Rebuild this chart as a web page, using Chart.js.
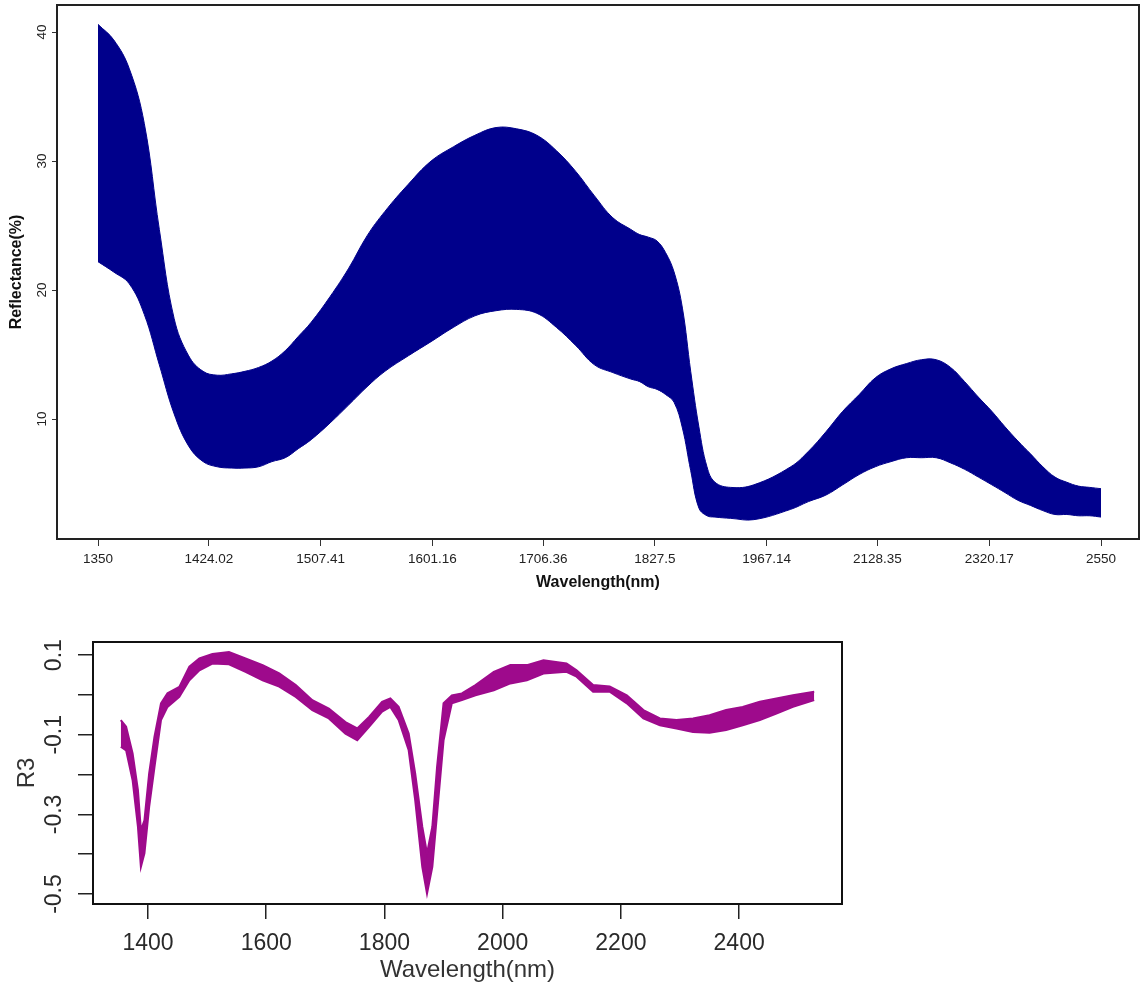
<!DOCTYPE html>
<html>
<head>
<meta charset="utf-8">
<script src="https://cdn.jsdelivr.net/npm/chart.js@4.4.1/dist/chart.umd.min.js"></script>
<style>
  body { margin: 0; background: #fff; width: 1140px; height: 992px; overflow: hidden; }
  .panel { position: absolute; left: 0; }
</style>
</head>
<body>
<div class="panel" style="top:0"><canvas id="spectraChart" width="1140" height="600"></canvas></div>
<div class="panel" style="top:600px"><canvas id="r3Chart" width="1140" height="392"></canvas></div>
<script>
// top panel: envelope of the reflectance spectra (upper / lower edge of the band)
const specWavelengths = [1350, 1360, 1370, 1380, 1390, 1400, 1410, 1420, 1430, 1440, 1450, 1460, 1470, 1480, 1490, 1500,
    1515, 1530, 1545, 1560, 1580, 1600, 1620, 1640, 1660, 1680, 1700, 1720, 1740, 1760, 1780, 1800,
    1810, 1820, 1830, 1840, 1850, 1860, 1870, 1880, 1890, 1900, 1920, 1950,
    2000, 2025, 2050, 2075, 2100, 2125, 2150, 2175, 2200, 2225, 2250, 2275, 2300, 2325, 2350, 2375,
    2400, 2425, 2450, 2475, 2500, 2525, 2550];
const specUpper = [40.6, 39.4, 37.2, 32.9, 24.7, 17.8, 14.9, 13.7, 13.4, 13.5, 13.7, 14.0, 14.5, 15.3, 16.4, 17.5,
    19.5, 21.7, 24.2, 26.1, 28.2, 30.0, 31.1, 32.0, 32.6, 32.5, 32.0, 30.8, 29.2, 27.3, 25.6, 24.7,
    24.3, 24.1, 23.8, 22.9, 21.4, 18.6, 13.7, 9.4, 6.3, 5.1, 4.7, 4.9,
    6.3, 7.5, 9.0, 10.6, 11.9, 13.2, 13.9, 14.3, 14.6, 14.6, 14.0, 12.9, 11.7, 10.6, 9.4, 8.3,
    7.3, 6.3, 5.5, 5.1, 4.8, 4.7, 4.6];
const specLower = [22.2, 21.4, 20.5, 18.1, 14.2, 10.4, 7.9, 6.7, 6.3, 6.2, 6.2, 6.3, 6.7, 7.0, 7.7, 8.4,
    9.7, 11.1, 12.5, 13.7, 14.9, 16.0, 17.1, 18.0, 18.4, 18.5, 18.2, 17.1, 15.7, 14.2, 13.6, 13.1,
    12.9, 12.5, 12.3, 11.9, 11.3, 9.3, 6.0, 3.1, 2.5, 2.4, 2.3, 2.2,
    3.0, 3.6, 4.1, 4.9, 5.7, 6.3, 6.7, 7.0, 7.0, 7.0, 6.6, 6.1, 5.5, 4.9, 4.3, 3.7,
    3.3, 2.9, 2.6, 2.6, 2.5, 2.5, 2.4];
const specTickWavelengths = [1350, 1424.02, 1507.41, 1601.16, 1706.36, 1827.5, 1967.14, 2128.35, 2320.17, 2550];
const specTickLabels = ['1350', '1424.02', '1507.41', '1601.16', '1706.36', '1827.5', '1967.14', '2128.35', '2320.17', '2550'];
const specYTicks = [10, 20, 30, 40];
const specYLabels = ['10', '20', '30', '40'];

// bottom panel: R3 band
const r3Wavelengths = [1354, 1363, 1374, 1383, 1388, 1394, 1402, 1411, 1422, 1433, 1453, 1470, 1487, 1509,
    1537, 1565, 1594, 1622, 1650, 1678, 1706, 1734, 1754, 1774, 1796, 1810, 1824, 1841, 1852, 1864,
    1872, 1881, 1889, 1900, 1914, 1931, 1954, 1985, 2013, 2041, 2069, 2108, 2125, 2153, 2181, 2210,
    2238, 2266, 2294, 2322, 2350, 2378, 2406, 2435, 2463, 2491, 2527];
const r3Upper = [-0.063, -0.080, -0.147, -0.239, -0.340, -0.315, -0.197, -0.105, -0.021, 0.004, 0.020, 0.071, 0.092, 0.103,
    0.108, 0.092, 0.075, 0.054, 0.025, -0.013, -0.034, -0.068, -0.084, -0.055, -0.017, -0.009, -0.030, -0.097, -0.197, -0.331,
    -0.398, -0.331, -0.181, -0.021, -0.001, 0.004, 0.025, 0.058, 0.075, 0.075, 0.087, 0.079, 0.062, 0.025, 0.021, -0.001,
    -0.038, -0.059, -0.063, -0.059, -0.051, -0.038, -0.030, -0.017, -0.009, -0.001, 0.008];
const r3Lower = [-0.130, -0.139, -0.214, -0.331, -0.432, -0.398, -0.281, -0.181, -0.063, -0.030, -0.005, 0.037, 0.062, 0.079,
    0.077, 0.058, 0.037, 0.021, -0.005, -0.038, -0.059, -0.097, -0.114, -0.080, -0.042, -0.030, -0.063, -0.139, -0.264, -0.432,
    -0.499, -0.432, -0.298, -0.114, -0.021, -0.013, -0.001, 0.012, 0.029, 0.037, 0.054, 0.058, 0.046, 0.008, 0.008, -0.021,
    -0.059, -0.076, -0.084, -0.093, -0.095, -0.088, -0.076, -0.063, -0.047, -0.030, -0.013];
const r3XTicks = [1400, 1600, 1800, 2000, 2200, 2400];
const r3YTicks = [0.1, 0, -0.1, -0.2, -0.3, -0.4, -0.5];
const r3YLabelValues = [0.1, -0.1, -0.3, -0.5];
const r3YLabels = ['0.1', '-0.1', '-0.3', '-0.5'];

const FONT = '"Liberation Sans", Arial, sans-serif';
const navy = '#00008B';
const purple = '#9E0A8C';

Chart.defaults.font.family = FONT;

// box round the plot + vertical y tick labels, like base R
function framePlugin(cfg) {
    return {
        id: 'frame',
        afterDraw(chart) {
            const { ctx, chartArea: a } = chart;
            const yScale = chart.scales.y;
            ctx.save();
            ctx.strokeStyle = cfg.boxColor;
            ctx.lineWidth = cfg.boxWidth;
            ctx.strokeRect(a.left, a.top, a.right - a.left, a.bottom - a.top);
            ctx.fillStyle = cfg.textColor;
            ctx.font = cfg.font;
            ctx.textAlign = 'center';
            ctx.textBaseline = 'middle';
            cfg.values.forEach((v, i) => {
                ctx.save();
                ctx.translate(cfg.labelX, yScale.getPixelForValue(v));
                ctx.rotate(-Math.PI / 2);
                ctx.fillText(cfg.labels[i], 0, 0);
                ctx.restore();
            });
            ctx.restore();
        }
    };
}

// the top x axis is even in wavenumber, so plot against 1e7 / wavelength
const toWavenumber = w => 1e7 / w;

new Chart(document.getElementById('spectraChart'), {
    type: 'line',
    data: {
        datasets: [
            {
                data: specUpper.map((v, i) => ({ x: toWavenumber(specWavelengths[i]), y: v })),
                borderColor: navy,
                backgroundColor: navy,
                borderWidth: 1,
                pointRadius: 0,
                fill: '+1',
                tension: 0.4
            },
            {
                data: specLower.map((v, i) => ({ x: toWavenumber(specWavelengths[i]), y: v })),
                borderColor: navy,
                borderWidth: 1,
                pointRadius: 0,
                fill: false,
                tension: 0.4
            }
        ]
    },
    options: {
        responsive: false,
        animation: false,
        devicePixelRatio: 1,
        layout: { padding: { top: 5, right: 1, left: 0, bottom: 0 } },
        plugins: { legend: { display: false }, tooltip: { enabled: false } },
        scales: {
            x: {
                type: 'linear',
                reverse: true,
                min: 3789.6,
                max: 7549.9,
                afterBuildTicks: s => { s.ticks = specTickWavelengths.map(w => ({ value: toWavenumber(w) })); },
                afterFit: s => { s.height = 61; },
                grid: { drawOnChartArea: false, drawTicks: true, tickLength: 7, color: '#333', lineWidth: 1 },
                border: { display: false },
                ticks: {
                    autoSkip: false, maxRotation: 0, minRotation: 0, padding: 5,
                    color: '#222', font: { size: 13.5 },
                    callback: (v, i) => specTickLabels[i]
                },
                title: {
                    display: true, text: 'Wavelength(nm)', color: '#111',
                    font: { size: 16, weight: 'bold' }, padding: { top: 0, bottom: 7.4 }
                }
            },
            y: {
                type: 'linear',
                min: 0.7,
                max: 42.1,
                afterBuildTicks: s => { s.ticks = specYTicks.map(v => ({ value: v })); },
                afterFit: s => { s.width = 57; },
                grid: { drawOnChartArea: false, drawTicks: true, tickLength: 5, color: '#333', lineWidth: 1 },
                border: { display: false },
                ticks: { display: false },
                title: {
                    display: true, text: 'Reflectance(%)', color: '#111',
                    font: { size: 16, weight: 'bold' }, padding: { top: 7.4, bottom: 0 }
                }
            }
        }
    },
    plugins: [framePlugin({
        boxColor: '#222', boxWidth: 2, textColor: '#222',
        font: '13.5px ' + FONT, labelX: 42, values: specYTicks, labels: specYLabels
    })]
});

new Chart(document.getElementById('r3Chart'), {
    type: 'line',
    data: {
        datasets: [
            {
                data: r3Upper.map((v, i) => ({ x: r3Wavelengths[i], y: v })),
                borderColor: purple,
                backgroundColor: purple,
                borderWidth: 2,
                pointRadius: 0,
                fill: '+1',
                tension: 0
            },
            {
                data: r3Lower.map((v, i) => ({ x: r3Wavelengths[i], y: v })),
                borderColor: purple,
                borderWidth: 2,
                pointRadius: 0,
                fill: false,
                tension: 0
            }
        ]
    },
    options: {
        responsive: false,
        animation: false,
        devicePixelRatio: 1,
        layout: { padding: { top: 42, right: 298, left: 0, bottom: 0 } },
        plugins: { legend: { display: false }, tooltip: { enabled: false } },
        scales: {
            x: {
                type: 'linear',
                min: 1307,
                max: 2574,
                afterBuildTicks: s => { s.ticks = r3XTicks.map(v => ({ value: v })); },
                afterFit: s => { s.height = 88; },
                grid: { drawOnChartArea: false, drawTicks: true, tickLength: 15, color: '#222', lineWidth: 1.5 },
                border: { display: false },
                ticks: {
                    autoSkip: false, maxRotation: 0, minRotation: 0, padding: 11,
                    color: '#2a2a2a', font: { size: 23 },
                    callback: v => String(v)
                },
                title: {
                    display: true, text: 'Wavelength(nm)', color: '#333',
                    font: { size: 24 }, padding: { top: 0, bottom: 7.6 }
                }
            },
            y: {
                type: 'linear',
                min: -0.525,
                max: 0.133,
                afterBuildTicks: s => { s.ticks = r3YTicks.map(v => ({ value: v })); },
                afterFit: s => { s.width = 93; },
                grid: { drawOnChartArea: false, drawTicks: true, tickLength: 15, color: '#222', lineWidth: 1.5 },
                border: { display: false },
                ticks: { display: false },
                title: {
                    display: true, text: 'R3', color: '#333',
                    font: { size: 24 }, padding: { top: 12.6, bottom: 0 }
                }
            }
        }
    },
    plugins: [framePlugin({
        boxColor: '#111', boxWidth: 2, textColor: '#2a2a2a',
        font: '23px ' + FONT, labelX: 55, values: r3YLabelValues, labels: r3YLabels
    })]
});
</script>
</body>
</html>
